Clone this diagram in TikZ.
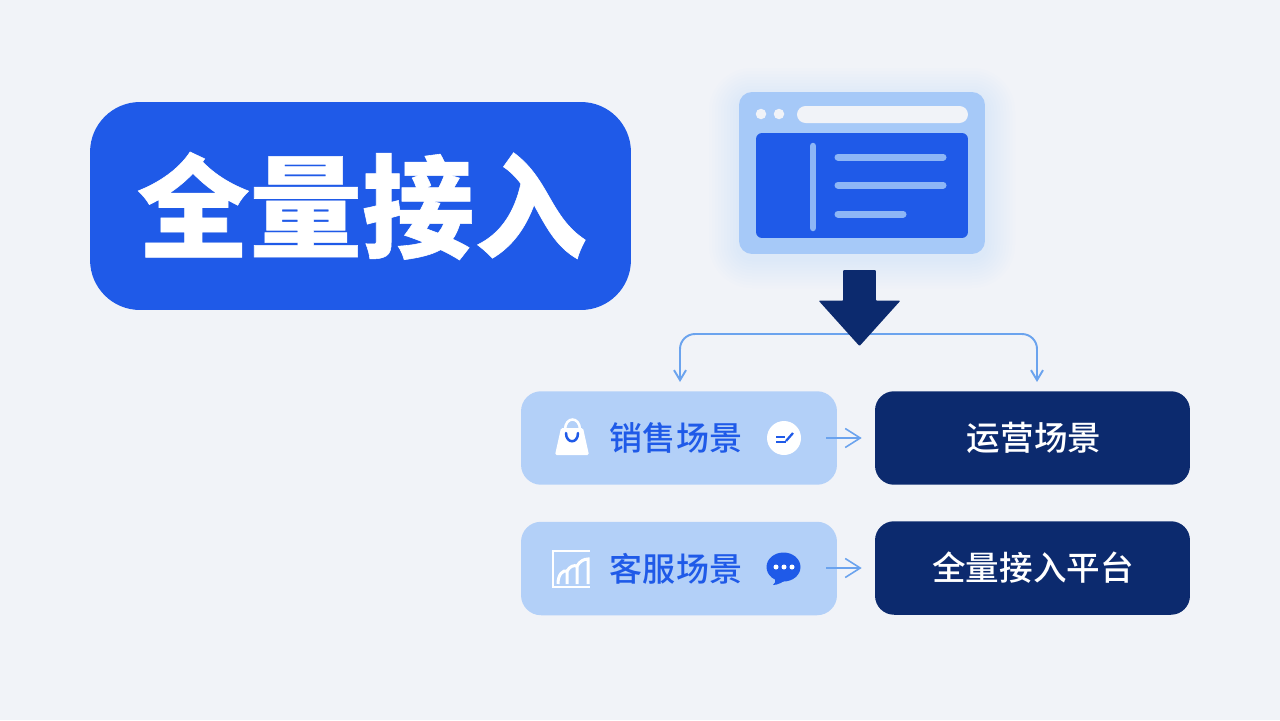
\documentclass[tikz,border=0pt]{standalone}
\usepackage{fontspec}
\setmainfont{Noto Sans CJK SC}
\newfontfamily\cjkmedium{Noto Sans CJK SC Medium}
\newfontfamily\cjkblack[FakeBold=0.5]{Noto Sans CJK SC Black}
\usetikzlibrary{arrows.meta}
\usetikzlibrary{shapes.arrows}
\usetikzlibrary{shapes.geometric}
\definecolor{pageBg}{HTML}{F1F3F8}
\definecolor{heroBlue}{HTML}{1F5AE8}
\definecolor{paleBlue}{HTML}{B3D0F8}
\definecolor{windowBlue}{HTML}{A6C9F8}
\definecolor{barBlue}{HTML}{8DB6F6}
\definecolor{lineBlue}{HTML}{6BA3EE}
\definecolor{navyBlue}{HTML}{0C2A6E}

\begin{document}
\begin{tikzpicture}[x=0.02cm,y=-0.02cm]
\tikzset{
    heroBox/.style={
                   fill=heroBlue,
                   rounded corners=1cm,
                   minimum width=10.82cm,
                   minimum height=4.16cm,
                   inner sep=0pt
    },
    heroText/.style={
                   inner sep=0pt,
                   text=white,
                   font=\cjkblack\fontsize{64}{64}\selectfont
    },
    paleCard/.style={
                   fill=paleBlue,
                   rounded corners=0.4cm,
                   minimum width=6.32cm,
                   minimum height=1.87cm
    },
    navyCard/.style={
                   fill=navyBlue,
                   rounded corners=0.38cm,
                   minimum width=6.3cm,
                   minimum height=1.87cm
    },
    paleText/.style={
                   inner sep=0pt,
                   text=heroBlue,
                   font=\cjkmedium\fontsize{18.8}{18.8}\selectfont
    },
    navyText/.style={
                   inner sep=0pt,
                   text=white,
                   font=\cjkmedium\fontsize{19.1}{19.1}\selectfont
    },
    branchLine/.style={
                   draw=lineBlue,
                   line width=1.1pt,
                   rounded corners=0.3cm,
                   -{Straight Barb[length=0.2cm,width=0.24cm]}
    },
    flowLine/.style={
                   draw=lineBlue,
                   line width=0.9pt,
                   -{Straight Barb[length=0.3cm,width=0.38cm]}
    }
}
    \fill[pageBg] (0,0) rectangle (1280,720);

    % glow under the window
    \foreach \g in {3,6,...,30} {
        \fill[windowBlue,opacity=0.022,rounded corners=0.26cm+\g*0.02cm] (739-\g,98-\g) rectangle (985+\g,258+\g);
    }

    \node (hero)[heroBox] at (360.5,206) {};
    \node (heroLabel)[heroText] at (362,206) {全量接入};

    % window
    \node (window)[fill=windowBlue,rounded corners=0.26cm,minimum width=4.92cm,minimum height=3.24cm,inner sep=0pt] at (862,173) {};
    \node (pane)[fill=heroBlue,rounded corners=0.12cm,minimum width=4.24cm,minimum height=2.1cm,inner sep=0pt] at (862,185.5) {};
    \node (dotA)[circle,fill=pageBg,minimum size=0.21cm,inner sep=0pt] at (761,114) {};
    \node (dotB)[circle,fill=pageBg,minimum size=0.21cm,inner sep=0pt] at (779,114) {};
    \node (addressBar)[fill=pageBg,rounded corners=0.17cm,minimum width=3.42cm,minimum height=0.34cm,inner sep=0pt] at (882.5,114.5) {};
    \draw[barBlue,line width=0.13cm,line cap=round] (813,146) -- (813,228);
    \draw[barBlue,line width=0.14cm,line cap=round] (838,157) -- (943,157);
    \draw[barBlue,line width=0.14cm,line cap=round] (838,185) -- (943,185);
    \draw[barBlue,line width=0.14cm,line cap=round] (838,214) -- (903,214);

    % cards
    \node (saleCard)[paleCard] at (679,438) {};
    \node (serviceCard)[paleCard] at (679,568.5) {};
    \node (opsCard)[navyCard] at (1032.5,438) {};
    \node (platformCard)[navyCard] at (1032.5,568) {};
    \node (saleText)[paleText] at (676,438) {销售场景};
    \node (serviceText)[paleText] at (676,568.5) {客服场景};
    \node (opsText)[navyText] at (1034,438) {运营场景};
    \node (platformText)[navyText] at (1033,568) {全量接入平台};

    % branch
    \coordinate (branchMid) at (859,334);
    \coordinate (branchLeft) at (680,382);
    \coordinate (branchRight) at (1037,382);
    \draw[branchLine] (branchMid) -| (branchLeft);
    \draw[branchLine] (branchMid) -| (branchRight);
    \node (bigArrow)[single arrow,fill=navyBlue,shape border rotate=270,rounded corners=0.5pt,
        minimum height=1.52cm,minimum width=1.62cm,single arrow head extend=0.49cm,
        single arrow head indent=0cm,single arrow tip angle=84,inner sep=0.32cm] at (859.5,299) {};

    \draw[flowLine,shorten <=-0.22cm,shorten >=0.26cm] (saleCard.east) -- (opsCard.west);
    \draw[flowLine,shorten <=-0.22cm,shorten >=0.26cm] (serviceCard.east |- platformCard.west) -- (platformCard.west);

    % bag icon
    \draw[white,line width=0.05cm] (565,430) .. controls (565,416) and (580,416) .. (580,430);
    \fill[white,rounded corners=0.03cm] (561,428) -- (583,428) -- (589,455) -- (555,455) -- cycle;
    \draw[heroBlue,line width=0.05cm,line cap=round] (566,433) .. controls (566,444) and (578,444) .. (578,433);

    % check badge
    \node (checkBadge)[circle,fill=white,minimum size=0.68cm,inner sep=0pt] at (784,438) {};
    \draw[heroBlue,line width=0.045cm] (776,437) -- (785,437);
    \draw[heroBlue,line width=0.045cm] (776,442) -- (786,442);
    \draw[heroBlue,line width=0.045cm] (786,441) -- (793,433);

    % chart icon
    \draw[white,line width=0.03cm] (590,551) -- (553,551) -- (553,587) -- (590,587);
    \draw[white,line width=0.06cm] (558,584) .. controls (558,574) and (563,570) .. (567,571) -- (567,584);
    \draw[white,line width=0.06cm] (567,571) .. controls (570,566) and (574,565) .. (577,566) -- (577,584);
    \draw[white,line width=0.06cm] (577,566) .. controls (580,561) and (584,559) .. (588,559) -- (588,584);

    % chat icon
    \fill[heroBlue] (775,578) .. controls (776,581) and (775,584) .. (773,585) .. controls (778,585) and (783,582) .. (787,579) -- cycle;
    \node (chatBubble)[ellipse,fill=heroBlue,minimum width=0.68cm,minimum height=0.58cm,inner sep=0pt] at (783.5,567) {};
    \foreach \px in {776,784,792} {
        \fill[white] (\px,567) circle (0.05cm);
    }

\end{tikzpicture}
\end{document}
